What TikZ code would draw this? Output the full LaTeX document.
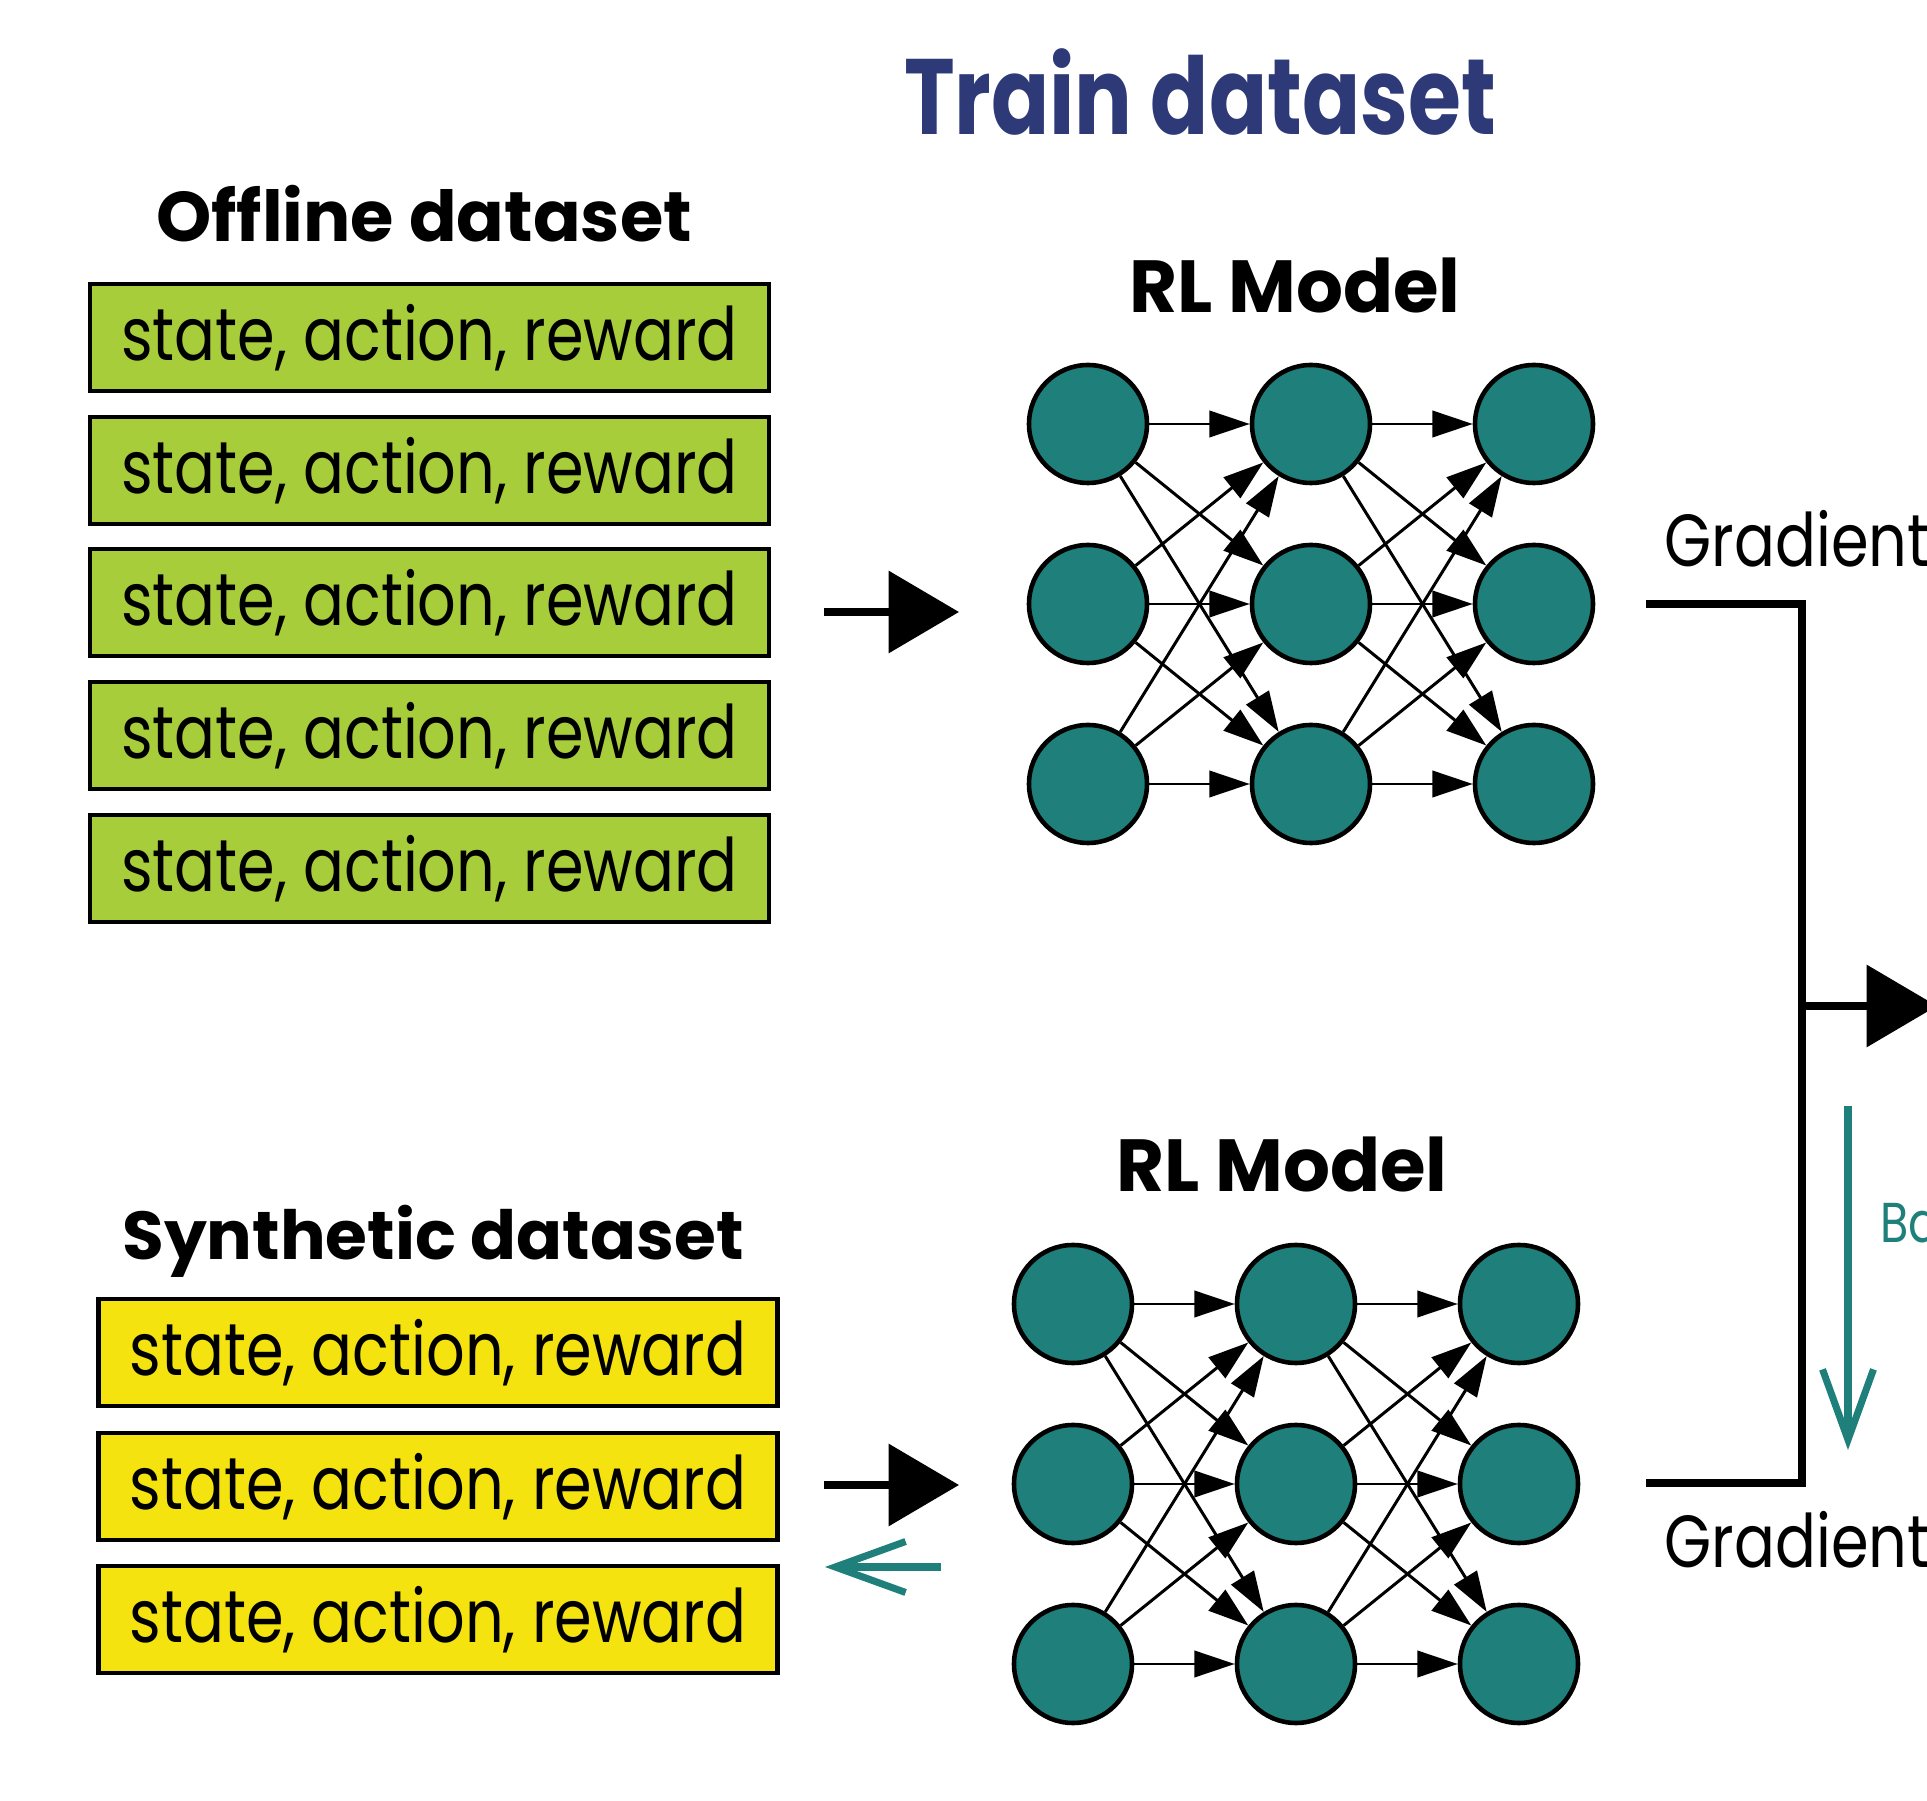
\documentclass[tikz,border=0pt]{standalone}
\usepackage{fontspec}
\setmainfont{Poppins}[FakeStretch=0.82]
\newfontfamily\headfont{Poppins}
\newfontfamily\titlefont{Poppins}[FakeStretch=0.8]
\usetikzlibrary{arrows.meta,positioning,calc}
\definecolor{offl}{HTML}{A8CD3A}
\definecolor{synth}{HTML}{F5E30F}
\definecolor{nteal}{HTML}{1F7F7A}
\definecolor{navy}{HTML}{2E3A78}

\tikzset{
  rec/.style={draw=black,line width=1.4pt,minimum width=6.79cm,minimum height=1.07cm,
    inner sep=0pt,font=\fontsize{21}{21}\selectfont},
  neuron/.style={circle,draw=black,line width=1.3pt,fill=nteal,minimum size=1.18cm,inner sep=0pt},
  syn/.style={-{Triangle[length=11.5pt,width=7.5pt]},line width=0.85pt},
  head/.style={anchor=base,font=\headfont\fontsize{20}{20}\selectfont\bfseries},
  feed/.style={-{Triangle[length=20pt,width=23pt]},line width=2pt},
  back/.style={nteal,-{Straight Barb[length=20pt,width=14.5pt]},line width=2pt},
  grad/.style={anchor=base west,inner sep=0pt,font=\fontsize{21}{21}\selectfont},
}

\begin{document}
\begin{tikzpicture}
  \useasboundingbox (0,0) rectangle (19.27,18);
  \clip (0,0) rectangle (19.27,18);
  % title
  \node[anchor=base,navy,font=\titlefont\fontsize{30.5}{30.5}\selectfont\bfseries] (title) at (12.00,16.65) {Train dataset};
  % LEFT: offline data
  \node[head] (offhead) at (4.24,15.58) {Offline dataset};
  \foreach \i/\y in {1/14.625,2/13.295,3/11.975,4/10.645,5/9.315}
    \node[rec,fill=offl] (off\i) at (4.295,\y) {state, action, reward};
  % LEFT: synthetic data
  \node[head,font=\headfont\fontsize{19.3}{19.3}\selectfont\bfseries] (synhead) at (4.33,5.40) {Synthetic dataset};
  \foreach \i/\y in {1/4.475,2/3.135,3/1.805}
    \node[rec,fill=synth] (syn\i) at (4.38,\y) {state, action, reward};
  % networks
  \node[head,font=\headfont\fontsize{21}{21}\selectfont\bfseries] (rltop) at (12.95,14.87) {RL Model};
  \node[head,font=\headfont\fontsize{21}{21}\selectfont\bfseries] (rlbot) at (12.82,6.08) {RL Model};
  \foreach \nn/\x/\y in {t/10.88/13.76,b/10.73/4.96}
    \foreach \c in {0,1,2}
      \foreach \r in {0,1,2}
        \node[neuron] (\nn\c\r) at ({\x+2.23*\c},{\y-1.80*\r}) {};
  \foreach \nn in {t,b}
    \foreach \c/\d in {0/1,1/2}
      \foreach \r in {0,1,2}
        \foreach \s in {0,1,2}
          \draw[syn] (\nn\c\r) -- (\nn\d\s);
  % feeding arrows
  \coordinate (intop) at (8.24,11.88);
  \coordinate (intopend) at (9.59,11.88);
  \coordinate (inbot) at (8.24,3.15);
  \coordinate (inbotend) at (9.59,3.15);
  \draw[feed] (intop) -- (intopend);
  \draw[feed] (inbot) -- (inbotend);
  \coordinate (gen) at (9.41,2.33);
  \coordinate (genend) at (8.25,2.33);
  \draw[back] (gen) -- (genend);
  % gradients
  \coordinate (gtop) at (16.46,11.96);
  \coordinate (gbot) at (16.46,3.17);
  \coordinate (join) at (18.02,7.94);
  \coordinate (out) at (19.37,7.94);
  \draw[line width=2.3pt] (gtop) -| (join) |- (gbot);
  \draw[feed] (join) -- (out);
  \node[grad] (gradtop) at (16.64,12.33) {Gradient};
  \node[grad] (gradbot) at (16.64,2.32) {Gradient};
  \coordinate (bpstart) at (18.48,6.94);
  \coordinate (bpend) at (18.48,3.50);
  \draw[back] (bpstart) -- (bpend);
  \node[anchor=base west,inner sep=0pt,nteal,font=\fontsize{16}{16}\selectfont] (bp) at (18.80,5.57) {Backpropagation};
\end{tikzpicture}
\end{document}
